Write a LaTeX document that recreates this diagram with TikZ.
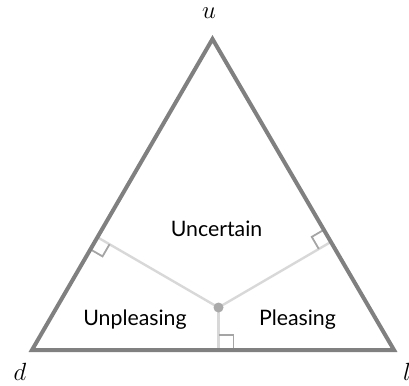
\documentclass[tikz,border=0pt]{standalone}
\usepackage{fontspec}
\setsansfont{Lato}
\usetikzlibrary{calc}
\definecolor{tri}{RGB}{128,128,128}
\definecolor{perp}{RGB}{216,216,216}
\definecolor{mark}{RGB}{165,165,165}
\definecolor{dot}{RGB}{170,170,170}
\begin{document}
\begin{tikzpicture}[x=1pt,y=-1pt,
  side/.style={draw=tri,line width=4pt,line join=miter},
  perpline/.style={draw=perp,line width=2.4pt},
  rmark/.style={draw=mark,line width=1.8pt},
  region/.style={font=\sffamily\fontsize{21.3}{25}\selectfont,anchor=base,inner sep=0pt},
  vlabel/.style={font=\fontsize{23}{27}\selectfont,anchor=base,inner sep=0pt}]
\useasboundingbox (0,0) rectangle (409,385);
\coordinate (U) at (212.5,39);
\coordinate (D) at (32,350);
\coordinate (L) at (394,350);
\coordinate (P) at (218.5,307.5);
\coordinate (F1) at ($(D)!(P)!(U)$);
\coordinate (F2) at ($(L)!(P)!(U)$);
\coordinate (F3) at ($(D)!(P)!(L)$);
% perpendiculars
\draw[perpline] (P) -- (F1);
\draw[perpline] (P) -- (F2);
\draw[perpline] (P) -- (F3);
% right angle marks
\coordinate (A1) at ($(F1)!14pt!(P)$);
\coordinate (B1) at ($(F1)!14pt!(D)$);
\draw[rmark] (A1) -- ($(A1)+(B1)-(F1)$) -- (B1);
\coordinate (A2) at ($(F2)!14pt!(P)$);
\coordinate (B2) at ($(F2)!14pt!(U)$);
\draw[rmark] (A2) -- ($(A2)+(B2)-(F2)$) -- (B2);
\coordinate (A3) at ($(F3)!15pt!(P)$);
\coordinate (B3) at ($(F3)!15pt!(L)$);
\draw[rmark] (A3) -- ($(A3)+(B3)-(F3)$) -- (B3);
% triangle
\draw[side] (U) -- (D) -- (L) -- cycle;
% point
\node[circle,fill=dot,minimum size=10pt,inner sep=0pt] (Pt) at (P) {};
% labels
\node[vlabel] (lu) at (209,18.5) {$u$};
\node[vlabel] (ld) at (20,380) {$d$};
\node[vlabel] (ll) at (407,380) {$l$};
\node[region] (unc) at (216.5,236) {Uncertain};
\node[region] (unp) at (135,325) {Unpleasing};
\node[region] (ple) at (297.5,325) {Pleasing};
\end{tikzpicture}
\end{document}
